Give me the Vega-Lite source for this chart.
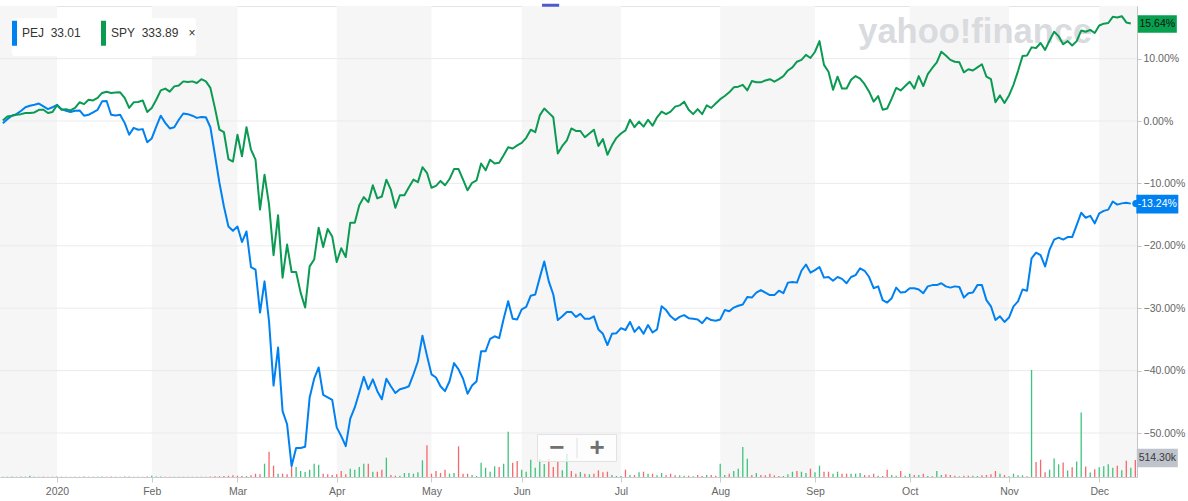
{
  "$schema": "https://vega.github.io/schema/vega-lite/v6.json",
  "width": 1137,
  "height": 471,
  "autosize": {"type": "none"},
  "padding": {"left": 0, "top": 6, "right": 51, "bottom": 24},
  "background": "#ffffff",
  "config": {
    "view": {"stroke": "#e4e4e8"},
    "font": "Liberation Sans",
    "axis": {"labelFont": "Liberation Sans"},
    "scale": {"continuousPadding": 0}
  },
  "datasets": {
    "px": [
      {"i":1,"PEJ":-0.35,"SPY":0.1,"vol":9,"up":1},
      {"i":2,"PEJ":0.3,"SPY":0.74,"vol":9,"up":1},
      {"i":3,"PEJ":0.85,"SPY":0.85,"vol":12,"up":1},
      {"i":4,"PEJ":1.1,"SPY":1.0,"vol":9,"up":1},
      {"i":5,"PEJ":1.6,"SPY":1.1,"vol":15,"up":1},
      {"i":6,"PEJ":2.2,"SPY":1.28,"vol":12,"up":1},
      {"i":7,"PEJ":2.45,"SPY":1.28,"vol":36,"up":1},
      {"i":8,"PEJ":2.6,"SPY":1.38,"vol":9,"up":1},
      {"i":9,"PEJ":2.8,"SPY":1.8,"vol":9,"up":1},
      {"i":10,"PEJ":2.35,"SPY":1.8,"vol":12,"up":0},
      {"i":11,"PEJ":1.9,"SPY":1.28,"vol":9,"up":0},
      {"i":12,"PEJ":2.2,"SPY":1.44,"vol":9,"up":1},
      {"i":13,"PEJ":2.6,"SPY":2.5,"vol":15,"up":1},
      {"i":14,"PEJ":1.9,"SPY":1.8,"vol":9,"up":0},
      {"i":15,"PEJ":1.65,"SPY":1.9,"vol":9,"up":0},
      {"i":16,"PEJ":1.45,"SPY":1.7,"vol":6,"up":0},
      {"i":17,"PEJ":1.65,"SPY":2.1,"vol":9,"up":1},
      {"i":18,"PEJ":1.7,"SPY":3.0,"vol":9,"up":1},
      {"i":19,"PEJ":0.85,"SPY":2.7,"vol":12,"up":0},
      {"i":20,"PEJ":1.0,"SPY":3.4,"vol":9,"up":1},
      {"i":21,"PEJ":1.4,"SPY":3.3,"vol":9,"up":1},
      {"i":22,"PEJ":1.8,"SPY":3.7,"vol":9,"up":1},
      {"i":23,"PEJ":3.15,"SPY":4.5,"vol":12,"up":1},
      {"i":24,"PEJ":3.2,"SPY":4.7,"vol":9,"up":1},
      {"i":25,"PEJ":1.0,"SPY":4.5,"vol":12,"up":0},
      {"i":26,"PEJ":0.9,"SPY":4.55,"vol":9,"up":0},
      {"i":27,"PEJ":1.0,"SPY":4.6,"vol":9,"up":1},
      {"i":28,"PEJ":-0.3,"SPY":3.7,"vol":12,"up":0},
      {"i":29,"PEJ":-2.2,"SPY":2.1,"vol":15,"up":0},
      {"i":30,"PEJ":-1.1,"SPY":3.0,"vol":9,"up":1},
      {"i":31,"PEJ":-1.4,"SPY":3.05,"vol":9,"up":0},
      {"i":32,"PEJ":-1.3,"SPY":3.3,"vol":9,"up":1},
      {"i":33,"PEJ":-3.4,"SPY":1.45,"vol":15,"up":0},
      {"i":34,"PEJ":-2.8,"SPY":2.1,"vol":36,"up":1},
      {"i":35,"PEJ":-0.9,"SPY":3.4,"vol":12,"up":1},
      {"i":36,"PEJ":0.85,"SPY":4.9,"vol":12,"up":1},
      {"i":37,"PEJ":-0.3,"SPY":5.2,"vol":9,"up":0},
      {"i":38,"PEJ":-1.2,"SPY":4.7,"vol":9,"up":0},
      {"i":39,"PEJ":-1.0,"SPY":5.55,"vol":9,"up":1},
      {"i":40,"PEJ":0.2,"SPY":5.7,"vol":9,"up":1},
      {"i":41,"PEJ":1.2,"SPY":6.35,"vol":9,"up":1},
      {"i":42,"PEJ":1.1,"SPY":6.25,"vol":9,"up":0},
      {"i":43,"PEJ":0.85,"SPY":6.35,"vol":9,"up":0},
      {"i":44,"PEJ":0.5,"SPY":6.1,"vol":9,"up":0},
      {"i":45,"PEJ":0.65,"SPY":6.7,"vol":9,"up":1},
      {"i":46,"PEJ":0.6,"SPY":6.35,"vol":9,"up":0},
      {"i":47,"PEJ":-1.0,"SPY":5.3,"vol":15,"up":0},
      {"i":48,"PEJ":-5.4,"SPY":2.1,"vol":24,"up":0},
      {"i":49,"PEJ":-9.9,"SPY":-1.4,"vol":24,"up":0},
      {"i":50,"PEJ":-13.7,"SPY":-1.8,"vol":30,"up":0},
      {"i":51,"PEJ":-16.9,"SPY":-6.1,"vol":36,"up":0},
      {"i":52,"PEJ":-17.6,"SPY":-6.5,"vol":51,"up":0},
      {"i":53,"PEJ":-16.9,"SPY":-2.2,"vol":39,"up":0},
      {"i":54,"PEJ":-19.4,"SPY":-5.65,"vol":30,"up":0},
      {"i":55,"PEJ":-17.7,"SPY":-1.0,"vol":30,"up":1},
      {"i":56,"PEJ":-23.4,"SPY":-4.6,"vol":51,"up":0},
      {"i":57,"PEJ":-23.8,"SPY":-6.2,"vol":100,"up":0},
      {"i":58,"PEJ":-30.7,"SPY":-14.2,"vol":82,"up":0},
      {"i":59,"PEJ":-25.7,"SPY":-8.6,"vol":402,"up":1},
      {"i":60,"PEJ":-32.1,"SPY":-13.4,"vol":765,"up":0},
      {"i":61,"PEJ":-42.4,"SPY":-21.5,"vol":342,"up":0},
      {"i":62,"PEJ":-36.3,"SPY":-15.1,"vol":100,"up":1},
      {"i":63,"PEJ":-46.5,"SPY":-25.1,"vol":100,"up":0},
      {"i":64,"PEJ":-48.6,"SPY":-19.8,"vol":82,"up":0},
      {"i":65,"PEJ":-55.3,"SPY":-24.2,"vol":302,"up":0},
      {"i":66,"PEJ":-52.4,"SPY":-24.2,"vol":302,"up":1},
      {"i":67,"PEJ":-52.4,"SPY":-27.5,"vol":181,"up":1},
      {"i":68,"PEJ":-52.2,"SPY":-29.9,"vol":151,"up":1},
      {"i":69,"PEJ":-44.3,"SPY":-23.3,"vol":221,"up":1},
      {"i":70,"PEJ":-41.3,"SPY":-22.2,"vol":402,"up":1},
      {"i":71,"PEJ":-39.5,"SPY":-17.1,"vol":372,"up":1},
      {"i":72,"PEJ":-43.9,"SPY":-20.2,"vol":100,"up":0},
      {"i":73,"PEJ":-44.3,"SPY":-17.3,"vol":82,"up":0},
      {"i":74,"PEJ":-44.7,"SPY":-18.5,"vol":60,"up":0},
      {"i":75,"PEJ":-49.1,"SPY":-22.6,"vol":82,"up":0},
      {"i":76,"PEJ":-50.5,"SPY":-20.4,"vol":181,"up":0},
      {"i":77,"PEJ":-52.1,"SPY":-21.8,"vol":82,"up":0},
      {"i":78,"PEJ":-47.7,"SPY":-16.3,"vol":251,"up":1},
      {"i":79,"PEJ":-45.9,"SPY":-16.3,"vol":221,"up":1},
      {"i":80,"PEJ":-43.5,"SPY":-13.5,"vol":302,"up":1},
      {"i":81,"PEJ":-41.0,"SPY":-12.2,"vol":402,"up":1},
      {"i":82,"PEJ":-43.0,"SPY":-13.0,"vol":402,"up":0},
      {"i":83,"PEJ":-41.4,"SPY":-10.3,"vol":160,"up":1},
      {"i":84,"PEJ":-43.3,"SPY":-12.4,"vol":160,"up":0},
      {"i":85,"PEJ":-44.6,"SPY":-12.1,"vol":221,"up":0},
      {"i":86,"PEJ":-41.3,"SPY":-9.4,"vol":584,"up":1},
      {"i":87,"PEJ":-42.5,"SPY":-11.0,"vol":60,"up":0},
      {"i":88,"PEJ":-43.6,"SPY":-13.9,"vol":39,"up":0},
      {"i":89,"PEJ":-43.0,"SPY":-11.9,"vol":39,"up":1},
      {"i":90,"PEJ":-42.8,"SPY":-11.9,"vol":121,"up":1},
      {"i":91,"PEJ":-42.5,"SPY":-10.6,"vol":121,"up":1},
      {"i":92,"PEJ":-40.6,"SPY":-9.4,"vol":100,"up":1},
      {"i":93,"PEJ":-38.5,"SPY":-9.8,"vol":142,"up":1},
      {"i":94,"PEJ":-34.4,"SPY":-7.4,"vol":505,"up":1},
      {"i":95,"PEJ":-37.6,"SPY":-8.3,"vol":959,"up":0},
      {"i":96,"PEJ":-40.6,"SPY":-10.7,"vol":100,"up":0},
      {"i":97,"PEJ":-41.1,"SPY":-10.4,"vol":181,"up":0},
      {"i":98,"PEJ":-42.5,"SPY":-9.6,"vol":121,"up":0},
      {"i":99,"PEJ":-43.3,"SPY":-10.3,"vol":221,"up":0},
      {"i":100,"PEJ":-41.7,"SPY":-9.3,"vol":100,"up":1},
      {"i":101,"PEJ":-38.8,"SPY":-7.7,"vol":121,"up":1},
      {"i":102,"PEJ":-39.8,"SPY":-7.7,"vol":929,"up":0},
      {"i":103,"PEJ":-41.3,"SPY":-9.4,"vol":100,"up":0},
      {"i":104,"PEJ":-43.7,"SPY":-11.1,"vol":100,"up":0},
      {"i":105,"PEJ":-42.4,"SPY":-9.9,"vol":60,"up":1},
      {"i":106,"PEJ":-41.7,"SPY":-9.5,"vol":30,"up":1},
      {"i":107,"PEJ":-36.9,"SPY":-6.8,"vol":433,"up":1},
      {"i":108,"PEJ":-36.9,"SPY":-7.9,"vol":281,"up":1},
      {"i":109,"PEJ":-34.9,"SPY":-6.2,"vol":160,"up":1},
      {"i":110,"PEJ":-34.5,"SPY":-6.8,"vol":324,"up":1},
      {"i":111,"PEJ":-34.8,"SPY":-6.7,"vol":302,"up":0},
      {"i":112,"PEJ":-31.7,"SPY":-5.5,"vol":402,"up":1},
      {"i":113,"PEJ":-28.9,"SPY":-4.2,"vol":1370,"up":1},
      {"i":114,"PEJ":-31.7,"SPY":-4.4,"vol":433,"up":0},
      {"i":115,"PEJ":-31.8,"SPY":-3.9,"vol":484,"up":0},
      {"i":116,"PEJ":-30.2,"SPY":-3.5,"vol":221,"up":1},
      {"i":117,"PEJ":-29.8,"SPY":-2.7,"vol":160,"up":1},
      {"i":118,"PEJ":-28.0,"SPY":-1.4,"vol":523,"up":1},
      {"i":119,"PEJ":-27.8,"SPY":-1.8,"vol":281,"up":1},
      {"i":120,"PEJ":-25.1,"SPY":0.9,"vol":545,"up":1},
      {"i":121,"PEJ":-22.5,"SPY":2.0,"vol":393,"up":1},
      {"i":122,"PEJ":-25.7,"SPY":1.3,"vol":545,"up":0},
      {"i":123,"PEJ":-27.8,"SPY":0.6,"vol":302,"up":0},
      {"i":124,"PEJ":-31.9,"SPY":-5.2,"vol":454,"up":0},
      {"i":125,"PEJ":-31.3,"SPY":-4.0,"vol":203,"up":1},
      {"i":126,"PEJ":-30.6,"SPY":-3.1,"vol":696,"up":1},
      {"i":127,"PEJ":-30.6,"SPY":-1.2,"vol":181,"up":0},
      {"i":128,"PEJ":-31.4,"SPY":-1.6,"vol":100,"up":0},
      {"i":129,"PEJ":-30.9,"SPY":-1.6,"vol":151,"up":1},
      {"i":130,"PEJ":-31.7,"SPY":-2.6,"vol":100,"up":0},
      {"i":131,"PEJ":-31.7,"SPY":-2.0,"vol":82,"up":1},
      {"i":132,"PEJ":-31.3,"SPY":-1.4,"vol":100,"up":0},
      {"i":133,"PEJ":-33.4,"SPY":-4.0,"vol":203,"up":0},
      {"i":134,"PEJ":-34.1,"SPY":-2.9,"vol":142,"up":0},
      {"i":135,"PEJ":-35.9,"SPY":-5.4,"vol":160,"up":0},
      {"i":136,"PEJ":-34.1,"SPY":-3.9,"vol":60,"up":1},
      {"i":137,"PEJ":-34.0,"SPY":-2.7,"vol":30,"up":1},
      {"i":138,"PEJ":-33.2,"SPY":-2.0,"vol":30,"up":1},
      {"i":139,"PEJ":-33.5,"SPY":-1.5,"vol":221,"up":0},
      {"i":140,"PEJ":-32.2,"SPY":0.2,"vol":60,"up":1},
      {"i":141,"PEJ":-33.8,"SPY":-1.0,"vol":60,"up":0},
      {"i":142,"PEJ":-33.0,"SPY":-0.1,"vol":142,"up":1},
      {"i":143,"PEJ":-34.1,"SPY":-0.9,"vol":160,"up":0},
      {"i":144,"PEJ":-32.7,"SPY":0.2,"vol":100,"up":1},
      {"i":145,"PEJ":-33.9,"SPY":-0.75,"vol":100,"up":0},
      {"i":146,"PEJ":-33.4,"SPY":0.6,"vol":51,"up":1},
      {"i":147,"PEJ":-29.7,"SPY":1.5,"vol":121,"up":1},
      {"i":148,"PEJ":-30.3,"SPY":1.1,"vol":51,"up":0},
      {"i":149,"PEJ":-31.3,"SPY":1.5,"vol":100,"up":0},
      {"i":150,"PEJ":-31.9,"SPY":2.3,"vol":51,"up":0},
      {"i":151,"PEJ":-31.4,"SPY":2.5,"vol":51,"up":1},
      {"i":152,"PEJ":-31.1,"SPY":3.1,"vol":39,"up":1},
      {"i":153,"PEJ":-31.6,"SPY":1.8,"vol":39,"up":0},
      {"i":154,"PEJ":-31.7,"SPY":1.1,"vol":21,"up":1},
      {"i":155,"PEJ":-31.8,"SPY":1.9,"vol":60,"up":0},
      {"i":156,"PEJ":-32.4,"SPY":1.1,"vol":30,"up":0},
      {"i":157,"PEJ":-31.5,"SPY":2.5,"vol":60,"up":1},
      {"i":158,"PEJ":-31.9,"SPY":2.1,"vol":60,"up":0},
      {"i":159,"PEJ":-32.0,"SPY":2.8,"vol":39,"up":0},
      {"i":160,"PEJ":-31.8,"SPY":3.5,"vol":402,"up":1},
      {"i":161,"PEJ":-30.3,"SPY":4.0,"vol":60,"up":1},
      {"i":162,"PEJ":-30.5,"SPY":4.6,"vol":100,"up":0},
      {"i":163,"PEJ":-29.9,"SPY":5.4,"vol":181,"up":1},
      {"i":164,"PEJ":-29.6,"SPY":5.5,"vol":251,"up":1},
      {"i":165,"PEJ":-29.4,"SPY":5.8,"vol":908,"up":1},
      {"i":166,"PEJ":-28.2,"SPY":4.9,"vol":554,"up":1},
      {"i":167,"PEJ":-28.3,"SPY":6.4,"vol":60,"up":0},
      {"i":168,"PEJ":-27.5,"SPY":6.2,"vol":121,"up":1},
      {"i":169,"PEJ":-27.1,"SPY":6.2,"vol":60,"up":0},
      {"i":170,"PEJ":-27.5,"SPY":6.5,"vol":51,"up":0},
      {"i":171,"PEJ":-27.9,"SPY":6.7,"vol":100,"up":0},
      {"i":172,"PEJ":-27.9,"SPY":6.3,"vol":51,"up":0},
      {"i":173,"PEJ":-27.2,"SPY":6.7,"vol":30,"up":0},
      {"i":174,"PEJ":-27.6,"SPY":7.2,"vol":30,"up":1},
      {"i":175,"PEJ":-25.9,"SPY":8.1,"vol":82,"up":1},
      {"i":176,"PEJ":-25.8,"SPY":8.6,"vol":160,"up":1},
      {"i":177,"PEJ":-25.9,"SPY":9.5,"vol":181,"up":0},
      {"i":178,"PEJ":-24.0,"SPY":9.8,"vol":160,"up":1},
      {"i":179,"PEJ":-23.0,"SPY":10.6,"vol":121,"up":1},
      {"i":180,"PEJ":-24.3,"SPY":10.1,"vol":251,"up":0},
      {"i":181,"PEJ":-23.9,"SPY":11.1,"vol":142,"up":1},
      {"i":182,"PEJ":-23.4,"SPY":12.8,"vol":342,"up":1},
      {"i":183,"PEJ":-25.1,"SPY":9.0,"vol":160,"up":0},
      {"i":184,"PEJ":-25.0,"SPY":7.9,"vol":160,"up":0},
      {"i":185,"PEJ":-25.6,"SPY":5.0,"vol":100,"up":1},
      {"i":186,"PEJ":-25.0,"SPY":7.1,"vol":160,"up":1},
      {"i":187,"PEJ":-25.3,"SPY":5.2,"vol":100,"up":0},
      {"i":188,"PEJ":-26.0,"SPY":5.2,"vol":100,"up":0},
      {"i":189,"PEJ":-25.0,"SPY":6.6,"vol":100,"up":1},
      {"i":190,"PEJ":-24.7,"SPY":7.2,"vol":100,"up":1},
      {"i":191,"PEJ":-23.6,"SPY":6.8,"vol":121,"up":1},
      {"i":192,"PEJ":-24.0,"SPY":5.9,"vol":60,"up":0},
      {"i":193,"PEJ":-25.0,"SPY":4.7,"vol":51,"up":0},
      {"i":194,"PEJ":-26.8,"SPY":3.1,"vol":100,"up":0},
      {"i":195,"PEJ":-26.5,"SPY":4.0,"vol":39,"up":1},
      {"i":196,"PEJ":-28.7,"SPY":1.8,"vol":30,"up":0},
      {"i":197,"PEJ":-29.1,"SPY":2.0,"vol":221,"up":0},
      {"i":198,"PEJ":-28.4,"SPY":3.6,"vol":60,"up":1},
      {"i":199,"PEJ":-26.7,"SPY":5.3,"vol":39,"up":1},
      {"i":200,"PEJ":-27.5,"SPY":4.9,"vol":181,"up":0},
      {"i":201,"PEJ":-27.4,"SPY":5.6,"vol":39,"up":1},
      {"i":202,"PEJ":-26.8,"SPY":6.3,"vol":100,"up":1},
      {"i":203,"PEJ":-26.8,"SPY":5.2,"vol":60,"up":0},
      {"i":204,"PEJ":-27.0,"SPY":7.2,"vol":60,"up":1},
      {"i":205,"PEJ":-27.6,"SPY":5.6,"vol":100,"up":0},
      {"i":206,"PEJ":-26.5,"SPY":7.5,"vol":30,"up":1},
      {"i":207,"PEJ":-26.3,"SPY":8.5,"vol":21,"up":0},
      {"i":208,"PEJ":-26.3,"SPY":9.4,"vol":181,"up":1},
      {"i":209,"PEJ":-26.0,"SPY":11.1,"vol":60,"up":1},
      {"i":210,"PEJ":-26.5,"SPY":10.5,"vol":82,"up":0},
      {"i":211,"PEJ":-26.7,"SPY":9.8,"vol":60,"up":0},
      {"i":212,"PEJ":-26.5,"SPY":9.5,"vol":39,"up":0},
      {"i":213,"PEJ":-26.6,"SPY":9.4,"vol":21,"up":1},
      {"i":214,"PEJ":-28.3,"SPY":7.8,"vol":39,"up":0},
      {"i":215,"PEJ":-27.6,"SPY":8.3,"vol":39,"up":0},
      {"i":216,"PEJ":-27.5,"SPY":8.1,"vol":39,"up":1},
      {"i":217,"PEJ":-26.3,"SPY":8.6,"vol":30,"up":1},
      {"i":218,"PEJ":-26.3,"SPY":9.1,"vol":51,"up":0},
      {"i":219,"PEJ":-28.7,"SPY":7.1,"vol":60,"up":0},
      {"i":220,"PEJ":-29.7,"SPY":6.7,"vol":82,"up":0},
      {"i":221,"PEJ":-31.9,"SPY":3.0,"vol":181,"up":0},
      {"i":222,"PEJ":-31.3,"SPY":4.1,"vol":100,"up":1},
      {"i":223,"PEJ":-32.2,"SPY":2.9,"vol":60,"up":0},
      {"i":224,"PEJ":-31.5,"SPY":4.1,"vol":21,"up":1},
      {"i":225,"PEJ":-29.7,"SPY":5.8,"vol":100,"up":1},
      {"i":226,"PEJ":-28.9,"SPY":8.0,"vol":51,"up":1},
      {"i":227,"PEJ":-27.0,"SPY":10.4,"vol":51,"up":1},
      {"i":228,"PEJ":-27.2,"SPY":10.5,"vol":21,"up":0},
      {"i":229,"PEJ":-22.0,"SPY":11.8,"vol":3237,"up":1},
      {"i":230,"PEJ":-21.1,"SPY":11.7,"vol":454,"up":0},
      {"i":231,"PEJ":-21.5,"SPY":12.5,"vol":523,"up":0},
      {"i":232,"PEJ":-23.3,"SPY":11.4,"vol":142,"up":0},
      {"i":233,"PEJ":-20.6,"SPY":12.9,"vol":221,"up":1},
      {"i":234,"PEJ":-19.0,"SPY":14.3,"vol":560,"up":1},
      {"i":235,"PEJ":-18.7,"SPY":13.6,"vol":384,"up":1},
      {"i":236,"PEJ":-19.0,"SPY":12.3,"vol":439,"up":0},
      {"i":237,"PEJ":-18.6,"SPY":12.8,"vol":197,"up":1},
      {"i":238,"PEJ":-18.6,"SPY":12.1,"vol":293,"up":0},
      {"i":239,"PEJ":-16.7,"SPY":12.8,"vol":469,"up":1},
      {"i":240,"PEJ":-14.7,"SPY":14.5,"vol":1951,"up":1},
      {"i":241,"PEJ":-15.5,"SPY":14.3,"vol":318,"up":0},
      {"i":242,"PEJ":-15.2,"SPY":14.6,"vol":136,"up":1},
      {"i":243,"PEJ":-16.4,"SPY":14.1,"vol":233,"up":0},
      {"i":244,"PEJ":-14.8,"SPY":15.3,"vol":293,"up":1},
      {"i":245,"PEJ":-14.4,"SPY":15.6,"vol":324,"up":1},
      {"i":246,"PEJ":-14.2,"SPY":15.7,"vol":384,"up":1},
      {"i":247,"PEJ":-12.9,"SPY":16.7,"vol":281,"up":1},
      {"i":248,"PEJ":-13.4,"SPY":16.6,"vol":342,"up":0},
      {"i":249,"PEJ":-13.2,"SPY":16.8,"vol":203,"up":1},
      {"i":250,"PEJ":-13.1,"SPY":15.8,"vol":493,"up":0},
      {"i":251,"PEJ":-13.24,"SPY":15.64,"vol":281,"up":1},
      {"i":252,"vol":514.3,"up":0}
    ]
  },
  "layer": [
    {
      "data": {"values": [
        {"m0":0.37,"m1":13},{"m0":34,"m1":53},{"m0":75,"m1":96},{"m0":116,"m1":138},
        {"m0":160,"m1":181},{"m0":202,"m1":224},{"m0":244,"m1":252.37}
      ]},
      "mark": {"type": "rect", "color": "#f6f6f6"},
      "encoding": {
        "x": {
          "field": "m0", "type": "quantitative",
          "scale": {"domain": [0.37, 252.37], "nice": false, "zero": false, "padding": 0},
          "axis": {
            "values": [13,34,53,75,96,116,138,160,181,202,224,244],
            "labelExpr": "['2020','Feb','Mar','Apr','May','Jun','Jul','Aug','Sep','Oct','Nov','Dec'][indexof([13,34,53,75,96,116,138,160,181,202,224,244], datum.value)]",
            "title": null, "grid": false,
            "domainColor": "#cccccc", "tickColor": "#cccccc", "tickSize": 5,
            "labelColor": "#666666", "labelFontSize": 10.5, "labelPadding": 4,
            "labelFlush": false, "labelOverlap": false
          }
        },
        "x2": {"field": "m1"}
      }
    },
    {
      "data": {"values": [{"g":10},{"g":0},{"g":-10},{"g":-20},{"g":-30},{"g":-40},{"g":-50}]},
      "mark": {"type": "rule", "color": "#ebebeb", "strokeWidth": 1},
      "encoding": {
        "y": {
          "field": "g", "type": "quantitative",
          "scale": {"domain": [-57.05, 18.43], "nice": false, "zero": false},
          "axis": {
            "orient": "right",
            "values": [10,0,-10,-20,-30,-40,-50],
            "labelExpr": "format(datum.value, '.2f') + '%'",
            "title": null, "grid": false,
            "domainColor": "#c4c4c4", "tickColor": "#c4c4c4", "tickSize": 4,
            "labelColor": "#666666", "labelFontSize": 10.5, "labelPadding": 2
          }
        }
      }
    },
    {
      "data": {"values": [{}]},
      "mark": {"type": "text", "text": "yahoo!finance", "font": "Liberation Sans", "fontWeight": "bold", "fontSize": 34.5, "color": "#d9dbdf", "align": "center", "baseline": "alphabetic"},
      "encoding": {
        "x": {"datum": 216.5, "type": "quantitative", "axis": null},
        "y": {"datum": 12.55, "type": "quantitative", "scale": {"domain": [-57.05, 18.43], "nice": false, "zero": false}, "axis": null}
      }
    },
    {
      "data": {"values": [{}]},
      "mark": {"type": "rule", "color": "#4b5bcf", "strokeWidth": 3},
      "encoding": {
        "x": {"datum": 120.5, "type": "quantitative", "axis": null},
        "x2": {"datum": 124.3},
        "y": {"datum": 18.55, "type": "quantitative", "scale": {"domain": [-57.05, 18.43], "nice": false, "zero": false}, "axis": null}
      }
    },
    {
      "data": {"name": "px"},
      "mark": {"type": "bar", "orient": "vertical", "width": 1.3},
      "encoding": {
        "x": {"field": "i", "type": "quantitative", "scale": {"domain": [0.37, 252.37], "nice": false, "zero": false, "padding": 0}, "axis": null},
        "y": {"field": "vol", "type": "quantitative", "scale": {"domain": [0, 14248], "nice": false}, "axis": null},
        "color": {"condition": {"test": "datum.up == 1", "value": "#3dc47e"}, "value": "#f7676b"}
      }
    },
    {
      "data": {"name": "px"},
      "transform": [
        {"filter": "isValid(datum.PEJ)"},
        {"fold": ["PEJ", "SPY"], "as": ["s", "v"]}
      ],
      "mark": {"type": "line", "strokeWidth": 2, "strokeJoin": "round"},
      "encoding": {
        "x": {"field": "i", "type": "quantitative", "scale": {"domain": [0.37, 252.37], "nice": false, "zero": false, "padding": 0}, "axis": null},
        "y": {"field": "v", "type": "quantitative", "scale": {"domain": [-57.05, 18.43], "nice": false, "zero": false}, "axis": null},
        "color": {
          "field": "s", "type": "nominal",
          "scale": {"domain": ["PEJ", "SPY"], "range": ["#0081f2", "#0b9a52"]},
          "legend": {
            "title": null, "orient": "top-left", "offset": 12, "direction": "horizontal",
            "fillColor": "#ffffff", "cornerRadius": 3, "padding": 0,
            "symbolType": "M-1,-1L-1,1", "symbolSize": 625, "symbolStrokeWidth": 5,
            "labelOffset": -20, "labelFontSize": 12, "labelColor": "#333333", "labelFont": "Liberation Sans",
            "columnPadding": 12,
            "labelExpr": "datum.label == 'PEJ' ? 'PEJ\u00a0\u00a033.01\u00a0' : 'SPY\u00a0\u00a0333.89\u00a0\u00a0\u00a0×\u00a0'",
            "encode": {"symbols": {"update": {"strokeWidth": {"value": 5}}}}
          }
        }
      }
    },
    {
      "data": {"values": [
        {"s": "SPY", "i": 251, "v": 15.64, "t": "15.64%"},
        {"s": "PEJ", "i": 251, "v": -13.24, "t": "-13.24%"}
      ]},
      "encoding": {
        "x": {"field": "i", "type": "quantitative", "scale": {"domain": [0.37, 252.37], "nice": false, "zero": false, "padding": 0}, "axis": null},
        "y": {"field": "v", "type": "quantitative", "scale": {"domain": [-57.05, 18.43], "nice": false, "zero": false}, "axis": null}
      },
      "layer": [
        {
          "mark": {"type": "point", "shape": "M-1,-0.45H1V0.45H-1Z", "filled": true, "opacity": 1, "xOffset": 26.5, "yOffset": 0.5},
          "encoding": {
            "color": {"condition": {"test": "datum.s == 'PEJ'", "value": "#0081f2"}, "value": "#07a04f"},
            "size": {"condition": {"test": "datum.s == 'PEJ'", "value": 1764}, "value": 1521}
          }
        },
        {
          "transform": [{"filter": "datum.s == 'PEJ'"}],
          "mark": {"type": "point", "filled": true, "opacity": 1, "size": 50, "xOffset": 5, "color": "#0081f2"}
        },
        {
          "mark": {"type": "text", "xOffset": 26.5, "yOffset": 0.5, "align": "center", "baseline": "middle", "fontSize": 10.5, "font": "Liberation Sans"},
          "encoding": {
            "text": {"field": "t"},
            "color": {"condition": {"test": "datum.s == 'PEJ'", "value": "#ffffff"}, "value": "#111111"}
          }
        }
      ]
    },
    {
      "data": {"values": [{"i": 252, "vol": 514.3, "t": "514.30k"}]},
      "encoding": {
        "x": {"field": "i", "type": "quantitative", "scale": {"domain": [0.37, 252.37], "nice": false, "zero": false, "padding": 0}, "axis": null},
        "y": {"field": "vol", "type": "quantitative", "scale": {"domain": [0, 14248], "nice": false}, "axis": null}
      },
      "layer": [
        {"mark": {"type": "point", "shape": "M-1,-0.45H1V0.45H-1Z", "filled": true, "opacity": 1, "size": 1681, "color": "#bfc3cb", "xOffset": 22, "yOffset": -2}},
        {"mark": {"type": "text", "xOffset": 22, "yOffset": -2, "align": "center", "baseline": "middle", "fontSize": 10.5, "font": "Liberation Sans", "color": "#3a3a3a"}, "encoding": {"text": {"field": "t"}}}
      ]
    },
    {
      "data": {"values": [{}]},
      "layer": [
        {
          "mark": {"type": "point", "shape": "M-1,-0.34H1V0.34H-1Z", "filled": true, "fill": "#ffffff", "fillOpacity": 0.75, "stroke": "#e2e2e2", "strokeWidth": 1, "size": 6241},
          "encoding": {
            "x": {"datum": 128.25, "type": "quantitative", "axis": null},
            "y": {"datum": -52.4, "type": "quantitative", "scale": {"domain": [-57.05, 18.43], "nice": false, "zero": false}, "axis": null}
          }
        },
        {
          "mark": {"type": "rule", "color": "#e0e0e0"},
          "encoding": {
            "x": {"datum": 128.25, "type": "quantitative", "axis": null},
            "y": {"datum": -50.8, "type": "quantitative", "scale": {"domain": [-57.05, 18.43], "nice": false, "zero": false}, "axis": null},
            "y2": {"datum": -54.0}
          }
        },
        {
          "mark": {"type": "text", "text": "−", "fontSize": 26, "fontWeight": "bold", "color": "#707070", "align": "center", "baseline": "middle", "font": "Liberation Sans"},
          "encoding": {
            "x": {"datum": 123.8, "type": "quantitative", "axis": null},
            "y": {"datum": -52.4, "type": "quantitative", "scale": {"domain": [-57.05, 18.43], "nice": false, "zero": false}, "axis": null}
          }
        },
        {
          "mark": {"type": "text", "text": "+", "fontSize": 26, "fontWeight": "bold", "color": "#707070", "align": "center", "baseline": "middle", "font": "Liberation Sans"},
          "encoding": {
            "x": {"datum": 132.7, "type": "quantitative", "axis": null},
            "y": {"datum": -52.4, "type": "quantitative", "scale": {"domain": [-57.05, 18.43], "nice": false, "zero": false}, "axis": null}
          }
        }
      ]
    }
  ],
  "resolve": {"scale": {"y": "independent"}, "axis": {"x": "independent"}}
}
